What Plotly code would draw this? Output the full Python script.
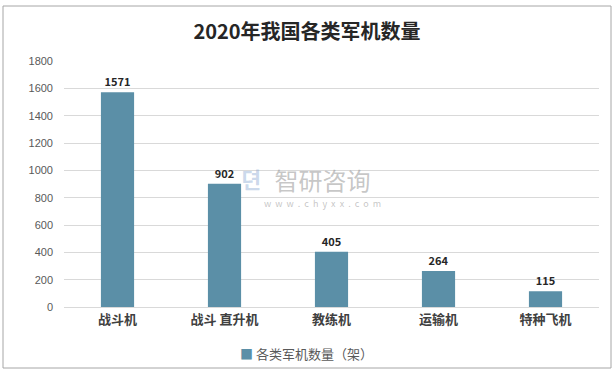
import plotly.graph_objects as go

categories = ["战斗机", "战斗直升机", "教练机", "运输机", "特种飞机"]
x_labels = ["战斗机", "战斗 直升机", "教练机", "运输机", "特种飞机"]
values = [1571, 902, 405, 264, 115]
series_name = "各类军机数量（架）"
title_text = "2020年我国各类军机数量"
y_ticks = [0, 200, 400, 600, 800, 1000, 1200, 1400, 1600, 1800]
bar_color = "#5b8fa7"

W, H = 614, 372
L, R, T, B = 64, 15, 61, 65
pw, ph = W - L - R, H - T - B

def px(x):
    return (x - L) / pw

def py(y):
    return (H - B - y) / ph

fig = go.Figure()
fig.add_trace(go.Bar(
    x=x_labels, y=values, name=series_name,
    marker=dict(color=bar_color, line=dict(width=0)),
    width=0.31,
    text=[str(v) for v in values], textposition="outside",
    textfont=dict(family="Noto Sans CJK SC, sans-serif", size=11, color="#262626"),
    texttemplate="<b>%{text}</b>", cliponaxis=False,
    showlegend=False,
))

fig.update_layout(
    template="none",
    width=W, height=H,
    margin=dict(l=L, r=R, t=T, b=B, autoexpand=False),
    paper_bgcolor="white", plot_bgcolor="white",
    font=dict(family="Noto Sans CJK SC, sans-serif", color="#595959"),
    title=dict(text="<b>" + title_text + "</b>", x=0.5, xanchor="center", y=1 - 32 / H, yanchor="middle",
               font=dict(size=20, color="#262626", family="Noto Sans CJK SC, sans-serif")),
    xaxis=dict(showgrid=False, showline=True, linecolor="#d9d9d9", linewidth=1, ticks="",
               automargin=False,
               tickfont=dict(size=13, color="#404040", family="Noto Sans CJK SC, sans-serif"),
               tickprefix="<b>", ticksuffix="</b>"),
    yaxis=dict(range=[0, 1800], tickvals=y_ticks, showgrid=True, gridcolor="#d9d9d9", gridwidth=1,
               zeroline=False, showline=False, ticks="", automargin=False, ticklabelstandoff=10,
               tickfont=dict(size=11, color="#595959", family="Liberation Sans, sans-serif")),
    showlegend=False,
)

# legend drawn as annotation
fig.add_annotation(xref="paper", yref="paper", x=px(306), y=py(353),
                   text='<span style="color:' + bar_color + '">■</span> ' + series_name,
                   showarrow=False, xanchor="center", yanchor="middle",
                   font=dict(size=13, color="#595959", family="Noto Sans CJK SC, sans-serif"))

# outer border
fig.add_shape(type="rect", xref="paper", yref="paper",
              x0=px(3), x1=px(611), y0=py(368), y1=py(6),
              line=dict(color="#a6a6a6", width=1), fillcolor="rgba(0,0,0,0)", layer="below")

# watermark (one text block)
fig.add_annotation(xref="paper", yref="paper", x=px(322), y=py(186),
                   text="<span style='font-size:24px'>智研咨询</span><br><span style='font-size:9px'>w  w  w  .  c  h  y  x  x  .  c  o  m</span>",
                   showarrow=False, font=dict(size=13, color="rgba(150,150,150,0.55)"),
                   xanchor="center", yanchor="middle")
fig.add_annotation(xref="paper", yref="paper", x=px(251), y=py(178), text="<b>뎐</b>",
                   showarrow=False, font=dict(size=22, color="rgba(140,170,210,0.45)"),
                   xanchor="center", yanchor="middle")

fig.write_html("out.html", config={"displayModeBar": False},
               post_script="document.body.style.margin='0';document.body.style.padding='0';")
